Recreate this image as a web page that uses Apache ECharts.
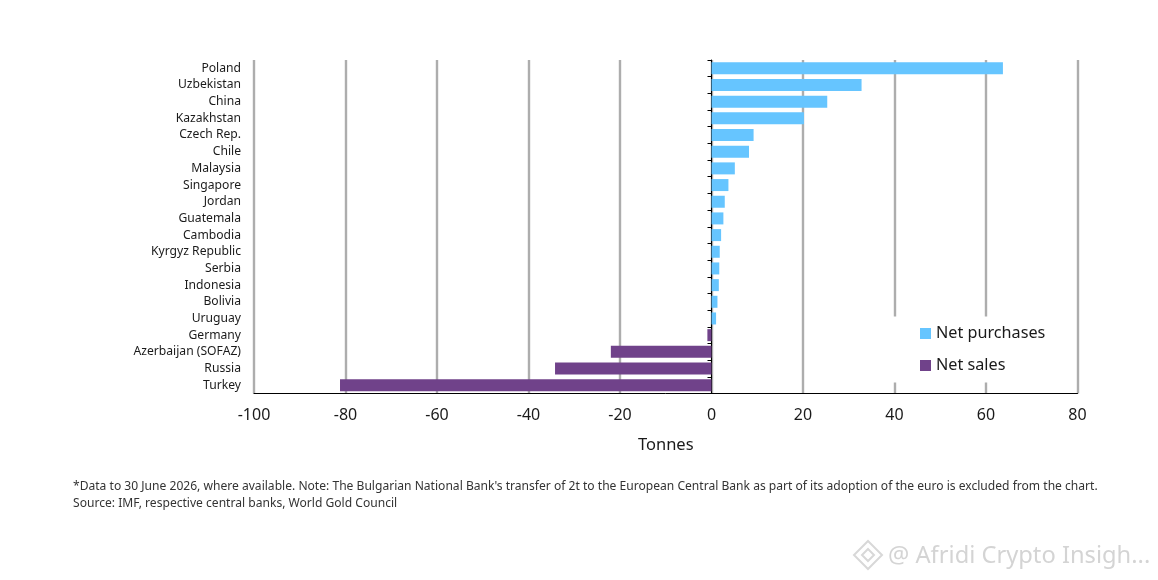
<!DOCTYPE html>
<html>
<head>
<meta charset="utf-8">
<style>html,body{margin:0;padding:0;background:#fff}#c{width:1158px;height:580px}</style>
<script src="https://cdn.jsdelivr.net/npm/echarts@6/dist/echarts.min.js"></script>
</head>
<body>
<div id="c"></div>
<script>
const categories = ['Poland','Uzbekistan','China','Kazakhstan','Czech Rep.','Chile','Malaysia','Singapore','Jordan','Guatemala','Cambodia','Kyrgyz Republic','Serbia','Indonesia','Bolivia','Uruguay','Germany','Azerbaijan (SOFAZ)','Russia','Turkey'];
const netPurchases = [63.7,32.8,25.3,20.2,9.2,8.2,5.1,3.7,2.9,2.6,2.1,1.8,1.7,1.6,1.3,1.0,null,null,null,null];
const netSales = [null,null,null,null,null,null,null,null,null,null,null,null,null,null,null,null,-0.9,-22,-34.2,-81.2];
const FONT = '"Noto Sans","Open Sans",sans-serif';
const chart = echarts.init(document.getElementById('c'), null, {renderer:'canvas'});
chart.setOption({
  animation:false,
  backgroundColor:'#fff',
  textStyle:{fontFamily:FONT},
  grid:{left:254,right:80.5,top:60,bottom:186.5,containLabel:false},
  xAxis:{
    type:'value',min:-100,max:80,interval:20,position:'bottom',
    name:'Tonnes',nameLocation:'middle',nameGap:43,
    nameTextStyle:{fontSize:16.5,color:'#1a1a1a',fontFamily:FONT},
    axisLine:{show:true,onZero:false,lineStyle:{color:'#000',width:1}},
    axisTick:{show:false},
    axisLabel:{fontSize:16,color:'#1a1a1a',margin:14,fontFamily:FONT},
    splitLine:{show:true,lineStyle:{color:'#adadad',width:2.4}}
  },
  yAxis:[
    {type:'category',data:categories,inverse:true,position:'left',
     axisLine:{show:false,onZero:false},axisTick:{show:false},
     axisLabel:{fontSize:12.15,color:'#1a1a1a',margin:13,interval:0,fontFamily:FONT},
     splitLine:{show:false}},
    {type:'category',data:categories,inverse:true,position:'left',
     axisLine:{show:true,onZero:true,lineStyle:{color:'#000',width:1}},
     axisTick:{show:true,length:4,lineStyle:{color:'#000',width:1}},
     axisLabel:{show:false},splitLine:{show:false}}
  ],
  legend:{
    orient:'vertical',left:880,top:316.5,
    padding:[9,20,9,40],itemGap:16,itemWidth:11,itemHeight:11,
    backgroundColor:'#fff',icon:'rect',
    textStyle:{fontSize:16.2,color:'#1a1a1a',fontFamily:FONT,padding:[0,0,0,0]},
    data:['Net purchases','Net sales']
  },
  series:[
    {name:'Net purchases',type:'bar',stack:'t',yAxisIndex:0,barWidth:12,data:netPurchases,itemStyle:{color:'#66c5ff'}},
    {name:'Net sales',type:'bar',stack:'t',yAxisIndex:0,barWidth:12,data:netSales,itemStyle:{color:'#70428a'}}
  ],
  graphic:[
    {type:'text',left:73,top:480.5,style:{text:"*Data to 30 June 2026, where available. Note: The Bulgarian National Bank's transfer of 2t to the European Central Bank as part of its adoption of the euro is excluded from the chart.",font:'12.09px '+FONT,fill:'#333'}},
    {type:'text',left:73,top:497.5,style:{text:'Source: IMF, respective central banks, World Gold Council',font:'12.09px '+FONT,fill:'#333'}},
    {type:'text',left:888,top:544,style:{text:'@ Afridi Crypto Insigh...',font:'23.7px '+FONT,fill:'#d4d4d4'}},
    {type:'polygon',shape:{points:[[868,541],[882,555],[868,569],[854,555]]},style:{fill:'none',stroke:'#d8d8d8',lineWidth:2}},
    {type:'polygon',shape:{points:[[868,549],[874,555],[868,561],[862,555]]},style:{fill:'none',stroke:'#d8d8d8',lineWidth:2}}
  ]
});
</script>
</body>
</html>
